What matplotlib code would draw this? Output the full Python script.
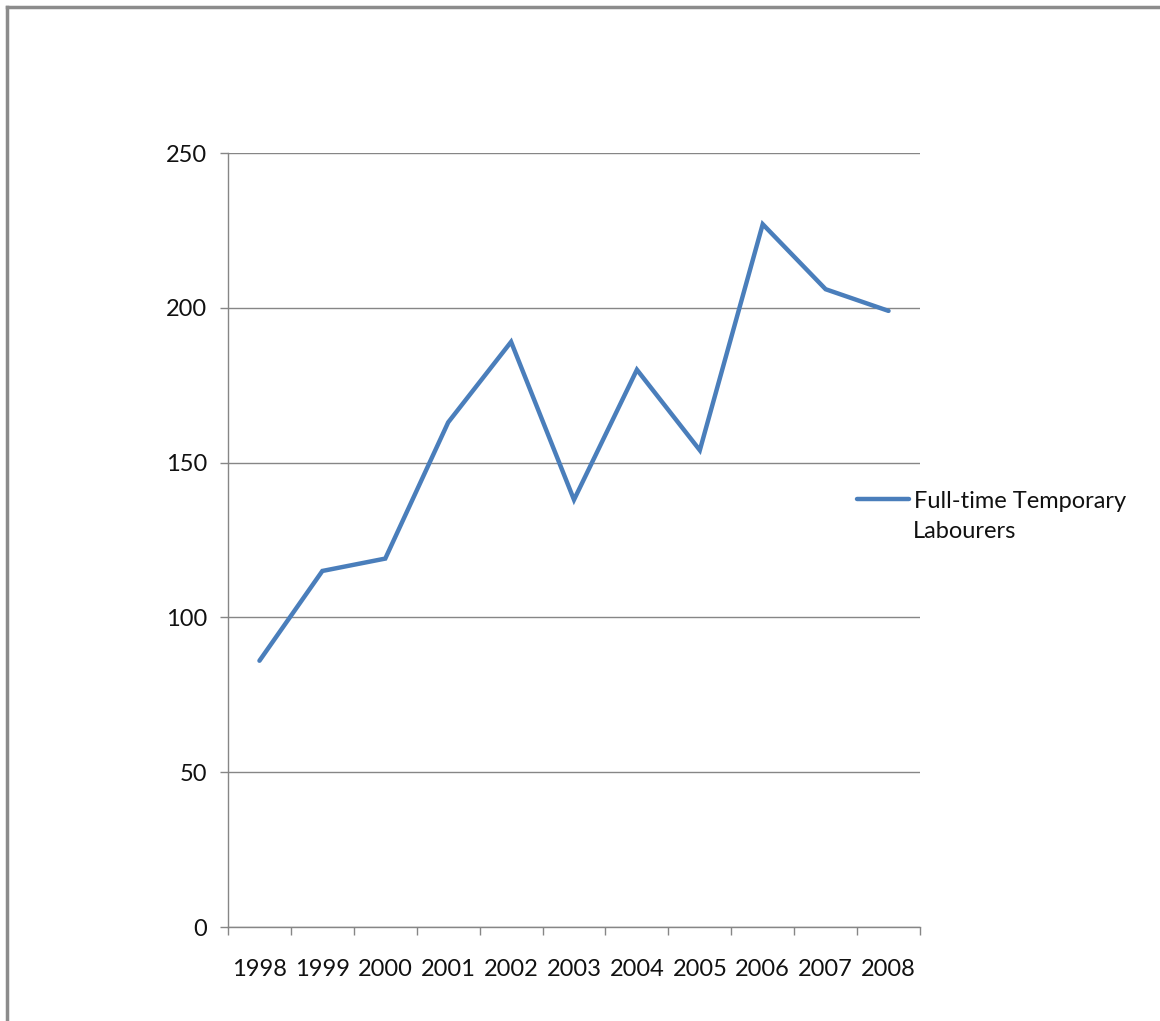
import matplotlib.pyplot as plt
from matplotlib.lines import Line2D
import numpy as np

years = ['1998', '1999', '2000', '2001', '2002', '2003', '2004', '2005', '2006', '2007', '2008']
labourers = [86, 115, 119, 163, 189, 138, 180, 154, 227, 206, 199]
y_ticks = [0, 50, 100, 150, 200, 250]

plt.rcParams['font.family'] = ['Lato', 'DejaVu Sans']

fig = plt.figure(figsize=(11.6, 10.21), dpi=100)
ax = fig.add_axes([228 / 1160, 94 / 1021, 692 / 1160, 774 / 1021])

grey = '#868686'
x = np.arange(len(years))
line, = ax.plot(x, labourers, color='#4A7EBB', linewidth=3.2, solid_capstyle='round',
                solid_joinstyle='miter')

ax.set_xlim(-0.5, len(years) - 0.5)
ax.set_ylim(0, 250)
ax.set_yticks(y_ticks)
ax.set_xticks(x)
ax.set_xticklabels(years)
ax.set_xticks(np.arange(-0.5, len(years)), minor=True)

ax.grid(axis='y', color=grey, linewidth=1)
ax.set_axisbelow(True)
for side in ['top', 'right']:
    ax.spines[side].set_visible(False)
for side in ['left', 'bottom']:
    ax.spines[side].set_color(grey)
    ax.spines[side].set_linewidth(1)

ax.tick_params(axis='x', which='major', length=0, pad=23, labelsize=17, labelcolor='#111111')
ax.tick_params(axis='x', which='minor', length=6, width=1, color=grey, direction='out')
ax.tick_params(axis='y', length=6, width=1, color=grey, pad=9, labelsize=17,
               labelcolor='#111111')

# legend: handle next to the first line of the label
fig.legend([line], ['Full-time Temporary'], loc='center left',
           bbox_to_anchor=(836 / 1160, 1 - 501 / 1021), frameon=False,
           fontsize=17, handlelength=2.2, handletextpad=0.2, labelcolor='#111111')
fig.text(913 / 1160, 1 - 532 / 1021, 'Labourers', fontsize=17, color='#111111',
         ha='left', va='center')

# outer chart frame
fig.add_artist(Line2D([7 / 1160, 7 / 1160], [0, 1 - 7 / 1021], color='#8c8c8c', linewidth=2.5,
                      transform=fig.transFigure))
fig.add_artist(Line2D([7 / 1160, 1], [1 - 7 / 1021, 1 - 7 / 1021], color='#8c8c8c',
                      linewidth=2.5, transform=fig.transFigure))

fig.savefig('out.png', dpi=100)
